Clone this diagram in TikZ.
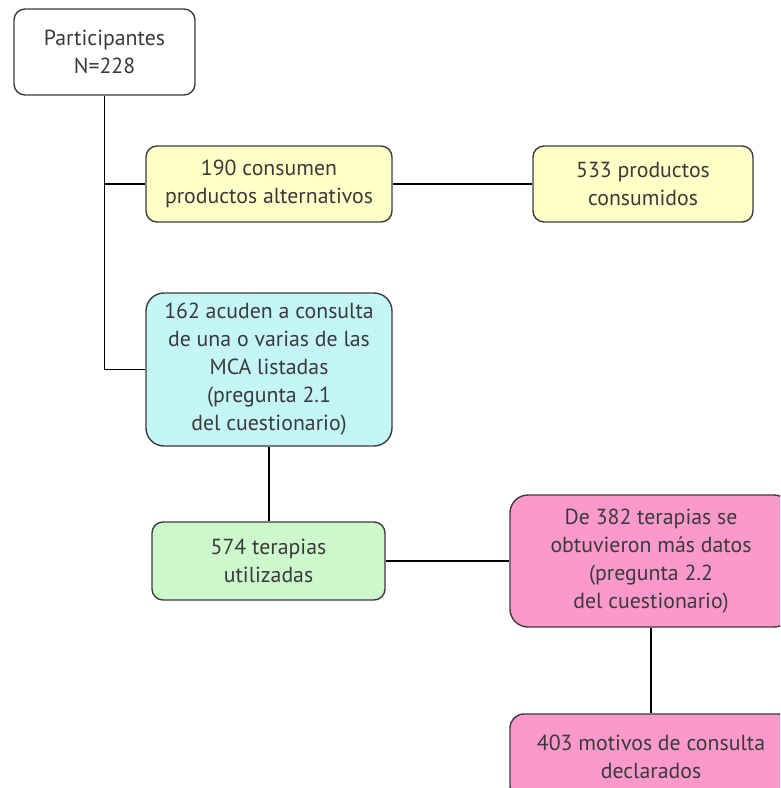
\documentclass[tikz,border=0pt]{standalone}
\usepackage{fontspec}
\setmainfont{PT Sans}
\definecolor{txt}{HTML}{3A3A3A}
\definecolor{bord}{HTML}{3C3C3C}
\definecolor{yel}{HTML}{FFFFC8}
\definecolor{cya}{HTML}{C4F6F8}
\definecolor{gre}{HTML}{CCF8CC}
\definecolor{pin}{HTML}{FC99CC}
\tikzset{
  box/.style={draw=bord, line width=1.4pt, rounded corners=11pt, align=center,
    text=txt, inner sep=0pt, font=\fontsize{21.8}{28}\selectfont},
  conn/.style={draw=black, line width=1.8pt}
}
\begin{document}
\begin{tikzpicture}[x=1pt,y=-1pt]
\clip (0,0) rectangle (780,788);
\fill[white] (0,0) rectangle (780,788);
\node[box, fill=white, minimum width=181pt, minimum height=86pt] (A) at (104.5,52) {Participantes\\N=228};
\node[box, fill=yel, minimum width=246pt, minimum height=76pt] (B) at (269,184) {190 consumen\\productos alternativos};
\node[box, fill=yel, minimum width=220pt, minimum height=76pt] (C) at (643,184) {533 productos\\consumidos};
\node[box, fill=cya, rounded corners=18pt, minimum width=246pt, minimum height=153pt] (D) at (269,369.5) {162 acuden a consulta\\de una o varias de las\\MCA listadas\\(pregunta 2.1\\del cuestionario)};
\node[box, fill=gre, minimum width=233pt, minimum height=78pt] (E) at (268.5,561) {574 terapias\\utilizadas};
\node[box, fill=pin, rounded corners=18pt, minimum width=282pt, minimum height=132pt] (F) at (651,561) {De 382 terapias se\\obtuvieron más datos\\(pregunta 2.2\\del cuestionario)};
\node[box, fill=pin, rounded corners=14pt, minimum width=282pt, minimum height=86pt] (G) at (651,757) {403 motivos de consulta\\declarados};
\draw[conn] (A.south) -- (A.south |- D.west) -- (D.west);
\draw[conn] (A.south |- B.west) -- (B.west);
\draw[conn] (B.east) -- (C.west);
\draw[conn] (D.south) -- (D.south |- E.north);
\draw[conn] (E.east) -- (F.west);
\draw[conn] (F.south) -- (G.north);
\end{tikzpicture}
\end{document}
